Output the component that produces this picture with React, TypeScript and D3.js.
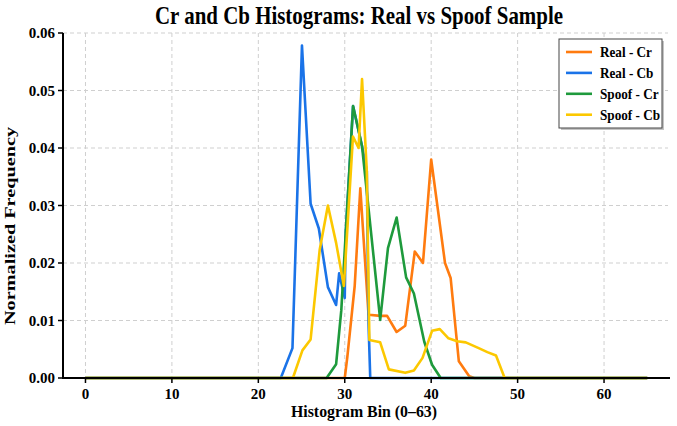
import React from 'react';
import * as d3 from 'd3';

type Pt = [number, number];

// [bin, normalized frequency]
const realCr: Pt[] = [
  [0, 0], [30, 0], [30.3, 0.0037], [31.15, 0.016], [31.8, 0.033], [32.75, 0.011],
  [34.15, 0.0108], [34.9, 0.0108], [36, 0.008], [37, 0.0091], [38.1, 0.022],
  [39.05, 0.02], [40, 0.038], [41.6, 0.02], [42.25, 0.0174], [43.2, 0.0029],
  [44.4, 0.0003], [45, 0], [65, 0],
];
const realCb: Pt[] = [
  [0, 0], [22.6, 0], [23.95, 0.0052], [25.05, 0.0578], [26.05, 0.0303], [27, 0.026],
  [28.05, 0.0158], [29, 0.0127], [29.35, 0.0182], [30, 0.0139], [30.1, 0.0249],
  [30.96, 0.0473], [32, 0.0403], [32.55, 0.036], [32.75, 0.0095], [32.95, 0], [65, 0],
];
const spoofCr: Pt[] = [
  [0, 0], [27.9, 0], [29, 0.0024], [29.6, 0.0118], [30.96, 0.0473], [32, 0.0403],
  [34.1, 0.0101], [35, 0.0226], [36, 0.0279], [37.1, 0.0175], [38, 0.0147],
  [39.2, 0.0063], [40.1, 0.0023], [41.1, 0], [65, 0],
];
const spoofCb: Pt[] = [
  [0, 0], [24, 0], [25.1, 0.0048], [26.05, 0.0067], [27.1, 0.0223], [28.05, 0.03],
  [29, 0.0235], [29.9, 0.016], [30.95, 0.042], [31.6, 0.04], [32, 0.052],
  [32.55, 0.036], [32.85, 0.0066], [34.1, 0.0062], [35.1, 0.0015], [37, 0.0009],
  [38, 0.0013], [39, 0.0035], [40.1, 0.0082], [41, 0.0085], [42, 0.0069],
  [43, 0.0064], [44, 0.0062], [45.5, 0.0052], [46.5, 0.0045], [47.5, 0.0039],
  [48.5, 0], [65, 0],
];

const seriesNames = ['Real - Cr', 'Real - Cb', 'Spoof - Cr', 'Spoof - Cb'];
const seriesData = [realCr, realCb, spoofCr, spoofCb];
const seriesColors = ['#ff7b0f', '#1a73e8', '#1e9a3c', '#fcc800'];

const xTicks = [0, 10, 20, 30, 40, 50, 60];
const yTicks = [0, 0.01, 0.02, 0.03, 0.04, 0.05, 0.06];

const W = 677;
const H = 426;
const left = 63;
const right = 668;
const top = 33;
const bottom = 378;
const font = '"Liberation Serif", "Times New Roman", serif';

const App: React.FC = () => {
  const x = d3.scaleLinear().domain([-2.6, 67.4]).range([left, right]);
  const y = d3.scaleLinear().domain([0, 0.06]).range([bottom, top]);
  const line = d3.line<Pt>().x(d => x(d[0])).y(d => y(d[1]));

  return (
    <div style={{ position: 'absolute', left: 0, top: 0 }}>
      <svg width={W} height={H} viewBox={`0 0 ${W} ${H}`} style={{ display: 'block', background: '#fff' }}>
        {/* grid */}
        {xTicks.map(t => (
          <line key={'gx' + t} x1={x(t)} x2={x(t)} y1={top} y2={bottom}
            stroke="#cfcfcf" strokeWidth={1} strokeDasharray="4,3" />
        ))}
        {yTicks.map(t => (
          <line key={'gy' + t} x1={left} x2={right} y1={y(t)} y2={y(t)}
            stroke="#cfcfcf" strokeWidth={1} strokeDasharray="4,3" />
        ))}

        {/* series */}
        {seriesData.map((d, i) => (
          <path key={seriesNames[i]} d={line(d) || ''} fill="none"
            stroke={seriesColors[i]} strokeWidth={2.6} strokeLinejoin="round" />
        ))}

        {/* axes */}
        <line x1={left} x2={left} y1={top} y2={bottom + 1} stroke="#000" strokeWidth={2} />
        <line x1={left - 1} x2={right + 2} y1={bottom} y2={bottom} stroke="#000" strokeWidth={2} />
        {yTicks.map(t => (
          <g key={'ty' + t}>
            <line x1={left - 5} x2={left} y1={y(t)} y2={y(t)} stroke="#000" strokeWidth={1.5} />
            <text x={left - 8} y={y(t)} dy="0.35em" textAnchor="end"
              fontFamily={font} fontWeight="bold" fontSize={15}>{t.toFixed(2)}</text>
          </g>
        ))}
        {xTicks.map(t => (
          <g key={'tx' + t}>
            <line x1={x(t)} x2={x(t)} y1={bottom} y2={bottom + 5} stroke="#000" strokeWidth={1.5} />
            <text x={x(t)} y={bottom + 21} textAnchor="middle"
              fontFamily={font} fontWeight="bold" fontSize={15}>{t}</text>
          </g>
        ))}

        {/* labels */}
        <text x={359} y={24} textAnchor="middle" fontFamily={font} fontWeight="bold" fontSize={25}
          textLength={408} lengthAdjust="spacingAndGlyphs">
          Cr and Cb Histograms: Real vs Spoof Sample
        </text>
        <text x={364} y={417} textAnchor="middle" fontFamily={font} fontWeight="bold" fontSize={16}
          textLength={146} lengthAdjust="spacingAndGlyphs">
          Histogram Bin (0–63)
        </text>
        <text transform="translate(15, 226) rotate(-90)" textAnchor="middle"
          fontFamily={font} fontWeight="bold" fontSize={15.5}
          textLength={198} lengthAdjust="spacingAndGlyphs">
          Normalized Frequency
        </text>

        {/* legend */}
        <g>
          <rect x={561} y={41} width={103} height={89} fill="#555" opacity={0.35} />
          <rect x={559} y={39} width={103} height={89} fill="#fff" stroke="#444" strokeWidth={1} />
          {seriesNames.map((n, i) => (
            <g key={'lg' + n} transform={`translate(566, ${52 + i * 20.9})`}>
              <line x1={0} x2={26} y1={0} y2={0} stroke={seriesColors[i]} strokeWidth={2.6} />
              <text x={34} y={0} dy="0.35em" fontFamily={font} fontWeight="bold" fontSize={15}
                transform="translate(34,0) scale(0.88,1) translate(-34,0)">{n}</text>
            </g>
          ))}
        </g>
      </svg>
    </div>
  );
};

export default App;
